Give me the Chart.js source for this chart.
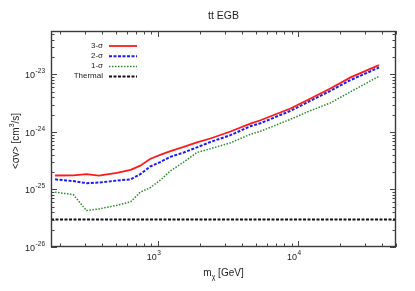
<!DOCTYPE html>
<html>
<head>
<meta charset="utf-8">
<script src="https://cdn.jsdelivr.net/npm/chart.js@4/dist/chart.umd.min.js"></script>
<style>
html, body { margin: 0; padding: 0; background: #fff; }
canvas { display: block; }
</style>
</head>
<body>
<canvas id="egb" width="415" height="291"></canvas>
<script>
// Data ------------------------------------------------------------------------

const massGeV = [185, 250, 310, 380, 510, 640, 750, 880, 1040, 1230, 1530, 1900, 2370, 3300, 4570, 5400, 8830, 12000, 17000, 23700, 37800];

const limit3Sigma = [1.75e-25, 1.76e-25, 1.85e-25, 1.74e-25, 1.95e-25, 2.2e-25, 2.6e-25, 3.4e-25, 4.0e-25, 4.66e-25, 5.5e-25, 6.6e-25, 7.7e-25, 1.02e-24, 1.4e-24, 1.6e-24, 2.56e-24, 3.7e-24, 5.7e-24, 8.9e-24, 1.45e-23];
const limit2Sigma = [1.5e-25, 1.4e-25, 1.29e-25, 1.32e-25, 1.43e-25, 1.5e-25, 1.85e-25, 2.5e-25, 3.0e-25, 3.7e-25, 4.4e-25, 5.4e-25, 6.7e-25, 8.8e-25, 1.26e-24, 1.42e-24, 2.33e-24, 3.4e-24, 5.2e-24, 8.0e-24, 1.32e-23];
const limit1Sigma = [9.0e-26, 8.1e-26, 4.3e-26, 4.6e-26, 5.3e-26, 6.1e-26, 9.0e-26, 1.07e-25, 1.45e-25, 2.1e-25, 3.0e-25, 4.4e-25, 5.1e-25, 6.5e-25, 9.1e-25, 1.03e-24, 1.66e-24, 2.3e-24, 3.2e-24, 5.0e-24, 9.3e-24];

const thermalXs = 3e-26;

const seriesLabels = ['3-\u03c3', '2-\u03c3', '1-\u03c3', 'Thermal'];

const xTickExps = [3, 4];
const yTickExps = [-26, -25, -24, -23];

const X_MIN = 173, X_MAX = 50000;
const Y_MIN = 1e-26, Y_MAX = 5.7e-23;

// Helpers ---------------------------------------------------------------------

const FONT = '"Liberation Sans", Arial, sans-serif';

function toPoints(xs, ys) {
    return xs.map(function (x, i) { return { x: x, y: ys[i] }; });
}

function drawPow(ctx, exp, x, y, align) {
    ctx.font = '9px ' + FONT;
    let wBase = ctx.measureText('10').width;
    ctx.font = '6.5px ' + FONT;
    let wExp = ctx.measureText(String(exp)).width;
    let total = wBase + wExp + 0.5;
    let start = align === 'right' ? x - total : x - total / 2;
    ctx.textAlign = 'left';
    ctx.textBaseline = 'alphabetic';
    ctx.font = '9px ' + FONT;
    ctx.fillText('10', start, y);
    ctx.font = '6.5px ' + FONT;
    ctx.fillText(String(exp), start + wBase + 0.5, y - 5);
}

// Plugin: frame, inward ticks, labels, legend ------------------------------

const gnuplotFrame = {
    id: 'gnuplotFrame',
    afterDraw: function (chart) {
        const ctx = chart.ctx;
        const area = chart.chartArea;
        const xs = chart.scales.x;
        const ys = chart.scales.y;
        ctx.save();

        // frame
        ctx.strokeStyle = '#3a3a3a';
        ctx.lineWidth = 1.4;
        ctx.strokeRect(area.left + 0.5, area.top + 0.5, area.right - area.left - 1, area.bottom - area.top - 1);

        // x ticks
        ctx.lineWidth = 1;
        ctx.strokeStyle = '#444';
        ctx.beginPath();
        for (let d = 2; d <= 4; d++) {
            for (let m = 1; m <= 9; m++) {
                let v = m * Math.pow(10, d);
                if (v < X_MIN || v > X_MAX) continue;
                let px = Math.round(xs.getPixelForValue(v)) + 0.5;
                let len = m === 1 ? 6 : 3.5;
                ctx.moveTo(px, area.bottom);
                ctx.lineTo(px, area.bottom - len);
                ctx.moveTo(px, area.top);
                ctx.lineTo(px, area.top + len);
            }
        }
        // y ticks
        for (let d = -27; d <= -23; d++) {
            for (let m = 1; m <= 9; m++) {
                let v = m * Math.pow(10, d);
                if (v < Y_MIN * 0.999 || v > Y_MAX) continue;
                let py = Math.round(ys.getPixelForValue(v)) + 0.5;
                let len = m === 1 ? 6 : 3.5;
                ctx.moveTo(area.left, py);
                ctx.lineTo(area.left + len, py);
                ctx.moveTo(area.right, py);
                ctx.lineTo(area.right - len, py);
            }
        }
        ctx.stroke();

        // tick labels
        ctx.fillStyle = '#222';
        xTickExps.forEach(function (e) {
            let px = xs.getPixelForValue(Math.pow(10, e));
            drawPow(ctx, e, px - 4, area.bottom + 13, 'center');
        });
        yTickExps.forEach(function (e) {
            let py = ys.getPixelForValue(Math.pow(10, e));
            drawPow(ctx, e, area.left - 6, py + 4, 'right');
        });

        // title
        ctx.textAlign = 'center';
        ctx.textBaseline = 'alphabetic';
        ctx.font = '10.5px ' + FONT;
        ctx.fillText('tt EGB', (area.left + area.right) / 2, 18.5);

        // x axis title: m_chi [GeV]
        ctx.font = '10px ' + FONT;
        let wM = ctx.measureText('m').width;
        let wRest = ctx.measureText(' [GeV]').width;
        ctx.font = '7px ' + FONT;
        let wChi = ctx.measureText('\u03c7').width;
        let xStart = (area.left + area.right) / 2 - (wM + wChi + wRest) / 2;
        ctx.textAlign = 'left';
        ctx.font = '10px ' + FONT;
        ctx.fillText('m', xStart, 276);
        ctx.font = '7px ' + FONT;
        ctx.fillText('\u03c7', xStart + wM, 279);
        ctx.font = '10px ' + FONT;
        ctx.fillText(' [GeV]', xStart + wM + wChi, 276);

        // y axis title: <sigma v> [cm^3/s]
        ctx.save();
        ctx.translate(19, (area.top + area.bottom) / 2 + 2);
        ctx.rotate(-Math.PI / 2);
        ctx.font = '10px ' + FONT;
        let p1 = '<\u03c3v> [cm';
        let p3 = '/s]';
        let w1 = ctx.measureText(p1).width;
        let w3 = ctx.measureText(p3).width;
        ctx.font = '7px ' + FONT;
        let w2 = ctx.measureText('3').width;
        let ys0 = -(w1 + w2 + w3) / 2;
        ctx.font = '10px ' + FONT;
        ctx.fillText(p1, ys0, 0);
        ctx.font = '7px ' + FONT;
        ctx.fillText('3', ys0 + w1, -5);
        ctx.font = '10px ' + FONT;
        ctx.fillText(p3, ys0 + w1 + w2, 0);
        ctx.restore();

        // legend
        ctx.font = '8px ' + FONT;
        ctx.textBaseline = 'middle';
        chart.data.datasets.forEach(function (ds, i) {
            let ly = 45.5 + i * 10.2;
            ctx.textAlign = 'right';
            ctx.fillStyle = '#222';
            ctx.fillText(ds.label, 103, ly);
            ctx.beginPath();
            ctx.setLineDash(ds.borderDash || []);
            ctx.strokeStyle = ds.borderColor;
            ctx.lineWidth = ds.borderWidth;
            ctx.moveTo(109, ly + 0.5);
            ctx.lineTo(137, ly + 0.5);
            ctx.stroke();
        });
        ctx.setLineDash([]);

        ctx.restore();
    }
};

// Chart -----------------------------------------------------------------------

const datasets = [
    { label: seriesLabels[0], data: toPoints(massGeV, limit3Sigma), borderColor: '#ff1a1a', borderWidth: 1.8, borderDash: [] },
    { label: seriesLabels[1], data: toPoints(massGeV, limit2Sigma), borderColor: '#1a1aff', borderWidth: 2, borderDash: [3, 1.5] },
    { label: seriesLabels[2], data: toPoints(massGeV, limit1Sigma), borderColor: '#2a8a2a', borderWidth: 1.5, borderDash: [1.5, 1.5] },
    { label: seriesLabels[3], data: toPoints([X_MIN, X_MAX], [thermalXs, thermalXs]), borderColor: '#111', borderWidth: 2, borderDash: [3, 1.5] }
];

datasets.forEach(function (ds) {
    ds.fill = false;
    ds.pointRadius = 0;
    ds.tension = 0;
});

new Chart(document.getElementById('egb').getContext('2d'), {
    type: 'line',
    data: { datasets: datasets },
    options: {
        responsive: false,
        animation: false,
        layout: { padding: { left: 51, right: 19, top: 31, bottom: 44 } },
        plugins: {
            legend: { display: false },
            tooltip: { enabled: false },
            title: { display: false }
        },
        scales: {
            x: { type: 'logarithmic', min: X_MIN, max: X_MAX, display: false },
            y: { type: 'logarithmic', min: Y_MIN, max: Y_MAX, display: false }
        }
    },
    plugins: [gnuplotFrame]
});
</script>
</body>
</html>
